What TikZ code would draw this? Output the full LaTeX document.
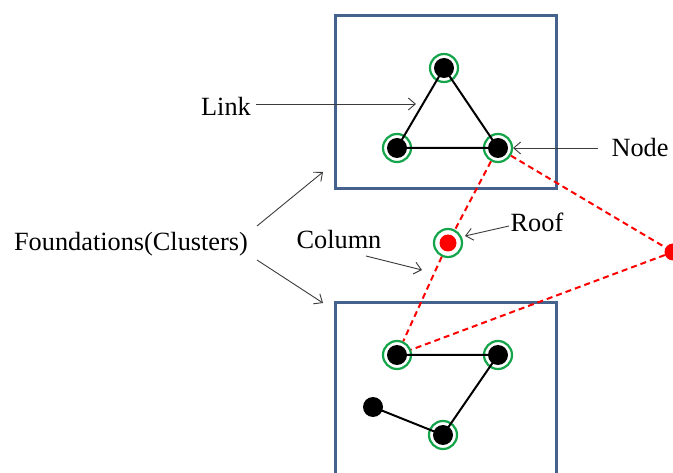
\documentclass[tikz,border=0pt]{standalone}
\usepackage{fontspec}
\setmainfont{Liberation Serif}
\usetikzlibrary{arrows.meta}
\definecolor{boxblue}{RGB}{68,98,140}
\definecolor{ringgreen}{RGB}{20,165,75}
\definecolor{callout}{RGB}{60,60,60}
\begin{document}
\begin{tikzpicture}[x=1pt,y=-1pt,
  frame/.style={draw=boxblue,line width=3pt},
  ring/.style={circle,draw=ringgreen,line width=2.2pt,minimum size=28pt,inner sep=0pt},
  dot/.style={circle,fill=black,minimum size=20pt,inner sep=0pt},
  roofdot/.style={circle,fill=red,minimum size=17pt,inner sep=0pt},
  link/.style={draw=black,line width=2pt},
  column/.style={draw=red,line width=2pt,dash pattern=on 6pt off 4pt},
  lbl/.style={font=\fontsize{26.3}{31}\selectfont,inner sep=0pt},
  pointer/.style={draw=callout,line width=0.9pt,-{Straight Barb[length=7pt,width=12pt]}}]
\useasboundingbox (0,0) rectangle (673,473);
\fill[white] (0,0) rectangle (673,473);

% foundation clusters
\draw[frame] (335,16) rectangle (556,189);
\draw[frame] (335,303) rectangle (556,490);

% upper cluster
\node[ring] (ta) at (444,68) {};
\node[ring] (tb) at (397,148) {};
\node[ring] (tc) at (498,148) {};
% lower cluster
\node[ring] (ba) at (397,355) {};
\node[ring] (bb) at (498,355) {};
\node[ring] (bc) at (443,435) {};
% roof with its ring, and the outer roof
\node[ring] (rr) at (448,243) {};
\node[roofdot] (r) at (448,243) {};
\node[roofdot] (q) at (673,252) {};

% columns
\draw[column] (tc) -- (rr) -- (ba);
\draw[column] (tc) -- (q) -- (ba);

% links
\draw[link] (ta.center) -- (tb.center) -- (tc.center) -- cycle;
\draw[link] (ba.center) -- (bb.center) -- (bc.center);
\node[dot] (bd) at (373,407) {};
\draw[link] (bd.center) -- (bc.center);

% node dots
\foreach \n in {ta,tb,tc,ba,bb,bc}
  \node[dot] at (\n) {};

% labels and pointers
\node[lbl] (link) at (226,106) {Link};
\coordinate (linkend) at (416,104);
\draw[pointer] (256,104) -- (linkend);

\node[lbl] (node) at (640,148) {Node};
\coordinate (nodeend) at (513,148);
\draw[pointer] (598,148) -- (nodeend);

\node[lbl] (found) at (131,244) {Foundations(Clusters)};
\coordinate (fup) at (323,172);
\coordinate (fdown) at (323,303);
\draw[pointer] (257,226) -- (fup);
\draw[pointer] (257,260) -- (fdown);

\node[lbl] (col) at (339,240) {Column};
\coordinate (colend) at (422,270);
\draw[pointer] (366,256) -- (colend);

\node[lbl] (roof) at (537,222) {Roof};
\coordinate (roofend) at (465,236);
\draw[pointer] (509,226) -- (roofend);
\end{tikzpicture}
\end{document}
